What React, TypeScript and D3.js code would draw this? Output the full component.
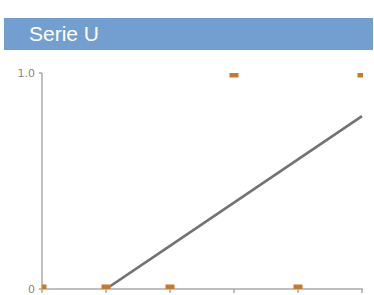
import React from "react";
import * as d3 from "d3";

const title = "Serie U";
const categories = [0, 1, 2, 3, 4, 5];
const values = [0, 0, 0, 1, 0, 1];
const trend: (number | null)[] = [null, 0, 0.2, 0.4, 0.6, 0.8];
const yTicks = [0, 1];
const yTickLabels = ["0", "1.0"];

export default function App() {
  const W = 374, H = 295;
  const left = 42, right = 362, top = 73, bottom = 289;
  const x = d3.scaleLinear().domain([0, 5]).range([left, right]);
  const y = d3.scaleLinear().domain([0, 1]).range([bottom, top]);
  const line = d3
    .line<number | null>()
    .defined((d) => d !== null)
    .x((_, i) => x(categories[i]))
    .y((d) => y(d as number));
  const ms = 9;
  return (
    <div style={{ position: "absolute", left: 0, top: 0 }}>
      <svg width={W} height={H} style={{ display: "block" }}>
        <defs>
          <clipPath id="plot">
            <rect x={left} y={top} width={right - left + 1} height={bottom - top} />
          </clipPath>
        </defs>
        <rect x={4} y={18} width={369} height={32} fill="#729fcf" />
        <text x={29} y={40.5} fill="#ffffff" fontFamily="Liberation Sans, Arial, sans-serif" fontSize={21}>
          {title}
        </text>
        <line x1={left} x2={left} y1={top} y2={bottom} stroke="#aaaaaa" strokeWidth={1.5} />
        <line x1={left} x2={right + 1} y1={bottom} y2={bottom} stroke="#aaaaaa" strokeWidth={1.5} />
        {yTicks.map((t, i) => (
          <g key={"y" + i}>
            <line x1={left - 3} x2={left} y1={y(t)} y2={y(t)} stroke="#aaaaaa" strokeWidth={1.5} />
            <text
              x={left - 7}
              y={y(t)}
              dy="0.35em"
              textAnchor="end"
              fill="#888"
              fontFamily="DejaVu Sans, sans-serif"
              fontSize={11}
            >
              {yTickLabels[i]}
            </text>
          </g>
        ))}
        {categories.map((c) => (
          <line key={"x" + c} x1={x(c)} x2={x(c)} y1={bottom} y2={bottom + 4} stroke="#aaaaaa" strokeWidth={1.5} />
        ))}
        <g clipPath="url(#plot)">
          <path d={line(trend) || ""} fill="none" stroke="#737373" strokeWidth={2.6} />
          {values.map((v, i) => (
            <rect
              key={"m" + i}
              x={x(categories[i]) - ms / 2}
              y={y(v) - ms / 2}
              width={ms}
              height={ms}
              fill="#c87a2a"
            />
          ))}
        </g>
      </svg>
    </div>
  );
}
